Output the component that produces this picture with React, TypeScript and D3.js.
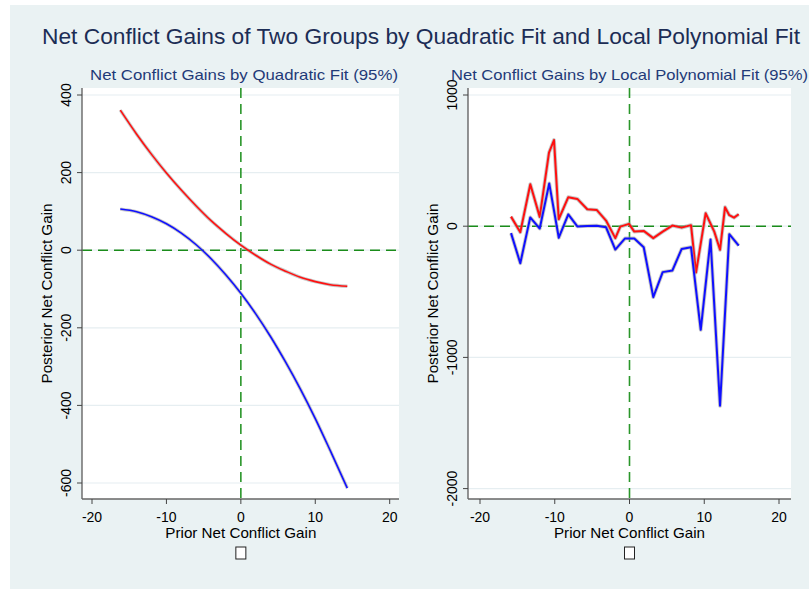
import React from 'react';
import * as d3 from 'd3';

// Quadratic fit panel
const quadX = [-16.2, -14, -12, -10, -8, -6, -4, -2, 0, 2, 4, 6, 8, 10, 12, 14.3];
const quadRed = [361, 299, 247, 199, 155, 114, 76, 43, 13, -13, -36, -54, -70, -81, -89, -93];
const quadBlue = [106, 99, 86, 68, 44, 14, -22, -64, -111, -164, -223, -288, -358, -434, -516, -613];

// Local polynomial panel
const lpRedX = [
  -15.85, -14.61, -13.27, -12.01, -10.77, -10.1, -9.47, -8.19, -6.98, -5.65, -4.39, -3.14, -1.9,
  -1.23, -0.07, 0.64, 1.9, 3.18, 4.44, 5.73, 6.98, 8.23, 8.9, 10.19, 11.34, 12.11, 12.78, 13.35,
  13.98, 14.61,
];
const lpRedY = [
  73, -46, 320, 71, 561, 657, 53, 221, 208, 129, 124, 43, -91, -3, 18, -41, -36, -91, -41, 5, -11,
  8, -353, 99, -41, -180, 145, 84, 65, 91,
];
const lpBlueX = [
  -15.85, -14.61, -13.28, -12.01, -10.74, -9.46, -8.19, -6.98, -5.65, -4.39, -3.14, -1.9, -0.6,
  0.64, 1.9, 3.18, 4.44, 5.73, 6.98, 8.23, 9.53, 10.84, 12.11, 13.35, 14.61,
];
const lpBlueY = [
  -53, -282, 67, -18, 326, -88, 90, -2, 2, 4, -8, -178, -93, -93, -160, -541, -350, -338, -173,
  -160, -790, -102, -1369, -61, -148,
];

const xTicks = [-20, -10, 0, 10, 20];
const quadYTicks = [-600, -400, -200, 0, 200, 400];
const lpYTicks = [-2000, -1000, 0, 1000];

const TITLE = 'Net Conflict Gains of Two Groups by Quadratic Fit and Local Polynomial Fit';
const FONT = '"Liberation Sans", Arial, Helvetica, sans-serif';

type Series = { xs: number[]; ys: number[]; color: string };

interface PanelProps {
  x0: number;
  x1: number;
  y0: number;
  y1: number;
  xRange: [number, number];
  yDomain: [number, number];
  yRange: [number, number];
  yTicks: number[];
  title: string;
  titleX: number;
  titleLen: number;
  series: Series[];
  curve: d3.CurveFactory;
  lineWidth: number;
}

const Panel: React.FC<PanelProps> = (p) => {
  const x = d3.scaleLinear().domain([-20, 20]).range(p.xRange);
  const y = d3.scaleLinear().domain(p.yDomain).range(p.yRange);
  const cy = (p.y0 + p.y1) / 2;

  const line = d3
    .line<[number, number]>()
    .x((d) => x(d[0]))
    .y((d) => y(d[1]))
    .curve(p.curve);

  return (
    <g>
      <rect x={p.x0} y={p.y0} width={p.x1 - p.x0} height={p.y1 - p.y0} fill="#fff" />
      {/* gridlines */}
      {p.yTicks.map((t) => (
        <line key={'g' + t} x1={p.x0} x2={p.x1} y1={y(t)} y2={y(t)} stroke="#e6eef1" strokeWidth={1.2} />
      ))}
      {/* reference lines at zero */}
      <line x1={p.x0} x2={p.x1} y1={y(0)} y2={y(0)} stroke="#1a8c1a" strokeWidth={1.6} strokeDasharray="10,6" />
      <line x1={x(0)} x2={x(0)} y1={p.y0} y2={p.y1} stroke="#2a962a" strokeWidth={1.6} strokeDasharray="10,6" />
      {p.series.map((s, i) => {
        const pts = s.xs.map((v, j) => [v, s.ys[j]] as [number, number]);
        const d = line(pts) || '';
        return (
          <g key={i}>
            <path d={d} fill="none" stroke="#9a9a9a" strokeOpacity={0.55} strokeWidth={p.lineWidth + 1.8} strokeLinejoin="round" />
            <path d={d} fill="none" stroke={s.color} strokeWidth={p.lineWidth} strokeLinejoin="round" />
          </g>
        );
      })}
      {/* axes */}
      <line x1={p.x0} x2={p.x0} y1={p.y0} y2={p.y1} stroke="#666" strokeWidth={1.4} />
      <line x1={p.x0} x2={p.x1} y1={p.y1} y2={p.y1} stroke="#666" strokeWidth={1.4} />
      {p.yTicks.map((t) => (
        <g key={'y' + t}>
          <line x1={p.x0 - 5} x2={p.x0} y1={y(t)} y2={y(t)} stroke="#444" strokeWidth={1} />
          <text
            transform={`translate(${p.x0 - 11},${y(t)}) rotate(-90)`}
            textAnchor="middle"
            fontSize={14}
            fill="#000"
          >
            {t}
          </text>
        </g>
      ))}
      {xTicks.map((t) => (
        <g key={'x' + t}>
          <line x1={x(t)} x2={x(t)} y1={p.y1} y2={p.y1 + 5} stroke="#444" strokeWidth={1} />
          <text x={x(t)} y={p.y1 + 23} textAnchor="middle" fontSize={14} fill="#000">
            {t}
          </text>
        </g>
      ))}
      <text x={x(0)} y={p.y1 + 39} textAnchor="middle" fontSize={15} fill="#000" textLength={151} lengthAdjust="spacingAndGlyphs">
        Prior Net Conflict Gain
      </text>
      <text
        transform={`translate(${p.x0 - 30},${cy}) rotate(-90)`}
        textAnchor="middle"
        fontSize={15}
        fill="#000"
        textLength={180}
        lengthAdjust="spacingAndGlyphs"
      >
        Posterior Net Conflict Gain
      </text>
      <text x={p.titleX} y={80} textAnchor="middle" fontSize={15} fill="#1f3a78" textLength={p.titleLen} lengthAdjust="spacingAndGlyphs">
        {p.title}
      </text>
      {/* empty legend key */}
      <rect x={x(0) - 5} y={547} width={10} height={12} fill="#fff" stroke="#222" strokeWidth={1} />
    </g>
  );
};

export default function App() {
  return (
    <svg width={809} height={589} style={{ position: 'absolute', left: 0, top: 0, fontFamily: FONT }}>
      <rect x={0} y={0} width={809} height={589} fill="#fff" />
      <rect x={10} y={5} width={799} height={584} fill="#eaf2f3" />
      <text x={421} y={44} textAnchor="middle" fontSize={22} fill="#1c2d55" textLength={758} lengthAdjust="spacingAndGlyphs">
        {TITLE}
      </text>
      <Panel
        x0={82}
        x1={399}
        y0={88}
        y1={499}
        xRange={[92, 389.7]}
        yDomain={[-600, 400]}
        yRange={[483, 95]}
        yTicks={quadYTicks}
        title="Net Conflict Gains by Quadratic Fit (95%)"
        titleX={244}
        titleLen={308}
        series={[
          { xs: quadX, ys: quadRed, color: '#ff1010' },
          { xs: quadX, ys: quadBlue, color: '#1010ff' },
        ]}
        curve={d3.curveMonotoneX}
        lineWidth={1.6}
      />
      <Panel
        x0={468}
        x1={791}
        y0={88}
        y1={499}
        xRange={[480, 779]}
        yDomain={[-2000, 1000]}
        yRange={[488.6, 95]}
        yTicks={lpYTicks}
        title="Net Conflict Gains by Local Polynomial Fit (95%)"
        titleX={629.5}
        titleLen={357}
        series={[
          { xs: lpRedX, ys: lpRedY, color: '#ff1010' },
          { xs: lpBlueX, ys: lpBlueY, color: '#1010ff' },
        ]}
        curve={d3.curveLinear}
        lineWidth={2}
      />
    </svg>
  );
}
